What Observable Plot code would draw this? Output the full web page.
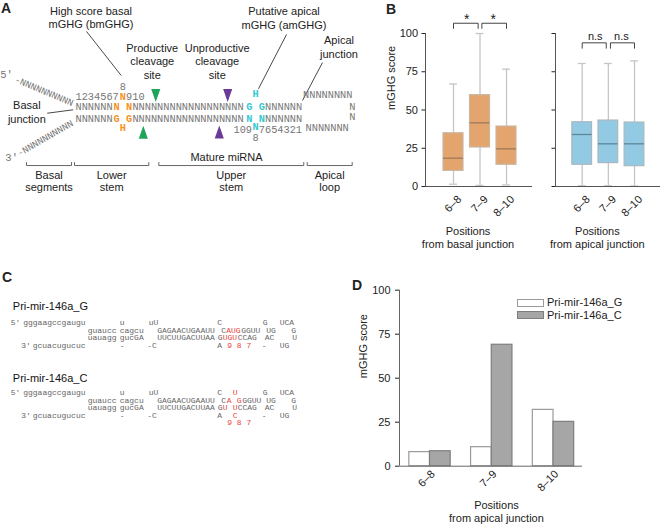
<!DOCTYPE html>
<html><head><meta charset="utf-8">
<script src="https://cdn.jsdelivr.net/npm/d3@7"></script>
<script src="https://cdn.jsdelivr.net/npm/@observablehq/plot@0.6"></script>
<style>
body{margin:0;background:#fff;}
#fig{position:relative;width:664px;height:526px;overflow:hidden;font-family:"Liberation Sans",Arial,sans-serif;color:#222;}
.pnl{position:absolute;}
.plab{position:absolute;font-weight:bold;font-size:14px;line-height:14px;}
.leg{position:absolute;font-size:11px;line-height:13px;white-space:nowrap;}
.sw{position:absolute;width:27px;height:8px;box-sizing:border-box;}
</style></head><body><div id="fig"></div>
<script>
// ---------------- DATA ----------------
const positionCats = ["6–8", "7–9", "8–10"];
const scoreTicks = [0, 25, 50, 75, 100];
// B: basal junction boxplots
const basalLo  = [1.5, 0.7, 1.0];
const basalQ1  = [10.2, 25.5, 14.2];
const basalMed = [18.5, 41.6, 24.6];
const basalQ3  = [34.8, 59.7, 39.2];
const basalHi  = [67.0, 100, 76.7];
// B: apical junction boxplots
const apicalLo  = [0.5, 0.5, 0.3];
const apicalQ1  = [14.2, 15.3, 13.3];
const apicalMed = [34.0, 27.9, 27.9];
const apicalQ3  = [42.0, 43.1, 41.8];
const apicalHi  = [80.4, 80.4, 82.1];
const sigBasal  = ["*", "*"];
const sigApical = ["n.s", "n.s"];
// D: bars
const seriesNames = ["Pri-mir-146a_G", "Pri-mir-146a_C"];
const mir146aG = [8.0, 10.8, 32.0];
const mir146aC = [8.5, 69.0, 25.2];
const basalTitle = ["Positions", "from basal junction"];
const apicalTitle = ["Positions", "from apical junction"];

// A: sequence diagram (col = nucleotide column, row = line)
const seqA = [
  {row:0, col:1, text:"NNNNNN", kind:"n"}, {row:0, col:7, text:"N", kind:"b"}, {row:0, col:9, text:"N", kind:"b"},
  {row:0, col:10, text:"NNNNNNNNNNNNNNNNNN", kind:"n"}, {row:0, col:28, text:"G", kind:"a"}, {row:0, col:30, text:"G", kind:"a"},
  {row:0, col:31, text:"NNNNNN", kind:"n"},
  {row:1, col:1, text:"NNNNNN", kind:"n"}, {row:1, col:7, text:"G", kind:"b"}, {row:1, col:9, text:"G", kind:"b"},
  {row:1, col:10, text:"NNNNNNNNNNNNNNNNNN", kind:"n"}, {row:1, col:28, text:"N", kind:"a"}, {row:1, col:30, text:"N", kind:"a"},
  {row:1, col:31, text:"NNNNNN", kind:"n"},
  {row:-1.52, col:8, text:"8", kind:"n"},
  {row:-0.81, col:1, text:"1234567", kind:"n"}, {row:-0.81, col:8, text:"N", kind:"b"}, {row:-0.81, col:9, text:"910", kind:"n"},
  {row:-1.02, col:29, text:"H", kind:"a"},
  {row:1.68, col:8, text:"H", kind:"b"},
  {row:1.83, col:26, text:"109", kind:"n"}, {row:1.63, col:29, text:"N", kind:"a"}, {row:1.83, col:30, text:"7654321", kind:"n"},
  {row:2.46, col:29, text:"8", kind:"n"},
  {row:-0.94, col:37, text:"NNNNNNNN", kind:"n"}, {row:0, col:44.3, text:"N", kind:"n"},
  {row:0.79, col:44.3, text:"N", kind:"n"}, {row:1.68, col:37.4, text:"NNNNNNN", kind:"n"}
];
const tailsA = [
  {col:0.1, row:-0.24, text:"-NNNNNNNNNN", angle:23},
  {col:0.0, row:1.26, text:"-NNNNNNNNNN", angle:-30}
];
const endsA = [{col:-10.4, row:-2.52, text:"5'"}, {col:-9.6, row:4.0, text:"3'"}];
const labelsA = [
  {col:2.95, row:-7.03, text:"High score basal\nmGHG (bmGHG)"},
  {col:12.64, row:-3.58, text:"Productive\ncleavage\nsite"},
  {col:22.92, row:-3.58, text:"Unproductive\ncleavage\nsite"},
  {col:33.49, row:-6.99, text:"Putative apical\nmGHG (amGHG)"},
  {col:42.19, row:-4.72, text:"Apical\njunction"},
  {col:-7.2, row:0.41, text:"Basal\njunction"},
  {col:24.39, row:3.99, text:"Mature miRNA"}
];
const leadersA = [
  {c1:2.24, r1:-5.91, c2:7.73, r2:-2.44},
  {c1:33.89, r1:-5.67, c2:29.45, r2:-1.39},
  {c1:39.58, r1:-3.46, c2:36.42, r2:-0.47},
  {c1:-3.98, r1:0.53, c2:0.14, r2:0.26}
];
const cleavageA = [
  {col:13.2, row:-0.87, dir:"down", site:"productive"},
  {col:11.23, row:2.02, dir:"up", site:"productive"},
  {col:24.58, row:-0.87, dir:"down", site:"unproductive"},
  {col:23.25, row:2.0, dir:"up", site:"unproductive"}
];
const regionsA = [
  {from:-7.25, to:-0.13, text:"Basal\nsegments"},
  {from:0.34, to:12.10, text:"Lower\nstem"},
  {from:13.68, to:36.62, text:"Upper\nstem"},
  {from:37.16, to:44.28, text:"Apical\nloop"}
];

// C: secondary structures (block G / C, line row, column)
const seqC = [
  // Pri-mir-146a_G
  {b:"G", row:0, col:-2.5, text:"5'"}, {b:"G", row:0, col:0, text:"gggaagccgaugu"}, {b:"G", row:0, col:19.3, text:"u"},
  {b:"G", row:0, col:25.1, text:"uU"}, {b:"G", row:0, col:38.8, text:"C"}, {b:"G", row:0, col:47.9, text:"G"}, {b:"G", row:0, col:51.3, text:"UCA"},
  {b:"G", row:1, col:12.9, text:"guaucc"}, {b:"G", row:1, col:19.3, text:"cagcu"}, {b:"G", row:1, col:26.8, text:"GAGAACUGAAUU"},
  {b:"G", row:1, col:39.6, text:"C"}, {b:"G", row:1, col:40.6, text:"AUG", red:true}, {b:"G", row:1, col:43.6, text:"GGUU"},
  {b:"G", row:1, col:48.6, text:"UG"}, {b:"G", row:1, col:53.6, text:"G"},
  {b:"G", row:2, col:12.9, text:"uauagg"}, {b:"G", row:2, col:19.3, text:"gucGA"}, {b:"G", row:2, col:26.8, text:"UUCUUGACUUAA"},
  {b:"G", row:2, col:38.9, text:"G"}, {b:"G", row:2, col:39.9, text:"UGU", red:true}, {b:"G", row:2, col:42.9, text:"CCAG"},
  {b:"G", row:2, col:48.3, text:"AC"}, {b:"G", row:2, col:53.8, text:"U"},
  {b:"G", row:3, col:-0.4, text:"3'"}, {b:"G", row:3, col:1.9, text:"gcuacugucuc"}, {b:"G", row:3, col:19.3, text:"-"},
  {b:"G", row:3, col:24.8, text:"-C"}, {b:"G", row:3, col:38.8, text:"A"}, {b:"G", row:3, col:40.8, text:"9 8 7", red:true},
  {b:"G", row:3, col:47.7, text:"-"}, {b:"G", row:3, col:51.3, text:"UG"},
  // Pri-mir-146a_C
  {b:"C", row:0, col:-2.5, text:"5'"}, {b:"C", row:0, col:0, text:"gggaagccgaugu"}, {b:"C", row:0, col:19.3, text:"u"},
  {b:"C", row:0, col:25.1, text:"uU"}, {b:"C", row:0, col:38.8, text:"C"}, {b:"C", row:0, col:41.9, text:"U", red:true},
  {b:"C", row:0, col:47.9, text:"G"}, {b:"C", row:0, col:51.3, text:"UCA"},
  {b:"C", row:1, col:12.9, text:"guaucc"}, {b:"C", row:1, col:19.3, text:"cagcu"}, {b:"C", row:1, col:26.8, text:"GAGAACUGAAUU"},
  {b:"C", row:1, col:39.6, text:"C"}, {b:"C", row:1, col:40.7, text:"A", red:true}, {b:"C", row:1, col:42.7, text:"G", red:true},
  {b:"C", row:1, col:43.8, text:"GGUU"}, {b:"C", row:1, col:48.6, text:"UG"}, {b:"C", row:1, col:53.6, text:"G"},
  {b:"C", row:2, col:12.9, text:"uauagg"}, {b:"C", row:2, col:19.3, text:"gucGA"}, {b:"C", row:2, col:26.8, text:"UUCUUGACUUAA"},
  {b:"C", row:2, col:38.9, text:"G"}, {b:"C", row:2, col:39.9, text:"U", red:true}, {b:"C", row:2, col:41.9, text:"U", red:true},
  {b:"C", row:2, col:42.9, text:"CCAG"}, {b:"C", row:2, col:48.3, text:"AC"}, {b:"C", row:2, col:53.8, text:"U"},
  {b:"C", row:3, col:-0.4, text:"3'"}, {b:"C", row:3, col:1.9, text:"gcuacugucuc"}, {b:"C", row:3, col:19.3, text:"-"},
  {b:"C", row:3, col:24.8, text:"-C"}, {b:"C", row:3, col:38.8, text:"A"}, {b:"C", row:3, col:41.9, text:"C", red:true},
  {b:"C", row:3, col:47.7, text:"-"}, {b:"C", row:3, col:51.3, text:"UG"},
  {b:"C", row:4, col:40.8, text:"9 8 7", red:true}
];
const blockOffsetC = {G:0, C:9.33};
const blockTitleRowC = {G:-2.17, C:7.47};

// ---------------- RENDER ----------------
const fig = document.getElementById("fig");
function place(node, left, top, w, h){
  const d = document.createElement("div"); d.className = "pnl";
  d.style.left = left + "px"; d.style.top = top + "px"; d.style.width = w + "px"; d.style.height = h + "px";
  d.appendChild(node); fig.appendChild(d);
}
const SANS = '"Liberation Sans", Arial, sans-serif';
const MONO = '"Liberation Mono", "Courier New", monospace';
const baseStyle = {fontFamily: SANS, fontSize: "11px", background: "none", overflow: "visible", color: "#222"};

const ORANGE = "#F5921E", CYAN = "#35C9D2", GRAYT = "#767676";
const triDown = {draw(ctx, size){ const s = Math.sqrt(size/Math.PI); ctx.moveTo(-0.7*s,-s); ctx.lineTo(0.7*s,-s); ctx.lineTo(0,s); ctx.closePath(); }};
const triUp = {draw(ctx, size){ const s = Math.sqrt(size/Math.PI); ctx.moveTo(-0.7*s,s); ctx.lineTo(0.7*s,s); ctx.lineTo(0,-s); ctx.closePath(); }};

// ---- Panel A ----
const bracketPtsA = regionsA.flatMap((d,k)=>[
  {id:k, x:d.from, y:4.41}, {id:k, x:d.from, y:4.65}, {id:k, x:d.to, y:4.65}, {id:k, x:d.to, y:4.41}
]);
const plotA = Plot.plot({
  width: 330, height: 200, margin: 0, style: baseStyle,
  x: {domain: [-11.367, 40.848], range: [0, 330], axis: null},
  y: {domain: [-8.346, 7.402], range: [0, 200], axis: null},
  marks: [
    Plot.line(bracketPtsA, {x:"x", y:"y", z:"id", stroke:"#666", strokeWidth:1}),
    Plot.text(regionsA, {x:d=>(d.from+d.to)/2, y:()=>5.85, text:"text", fontSize:11, lineHeight:1.15, lineAnchor:"middle", fill:"#222"}),
    Plot.link(leadersA, {x1:"c1", y1:"r1", x2:"c2", y2:"r2", stroke:"#333", strokeWidth:0.9}),
    Plot.text(labelsA, {x:"col", y:"row", text:"text", fontSize:11, lineHeight:1.22, lineAnchor:"middle", fill:"#222"}),
    Plot.text(seqA, {filter:d=>d.kind==="n", x:d=>d.col-0.5, y:"row", text:"text", textAnchor:"start", fontFamily:MONO, fontSize:10.3, fill:GRAYT}),
    Plot.text(seqA, {filter:d=>d.kind==="b", x:d=>d.col-0.5, y:"row", text:"text", textAnchor:"start", fontFamily:MONO, fontSize:10.3, fontWeight:"bold", fill:ORANGE}),
    Plot.text(seqA, {filter:d=>d.kind==="a", x:d=>d.col-0.5, y:"row", text:"text", textAnchor:"start", fontFamily:MONO, fontSize:10.3, fontWeight:"bold", fill:CYAN}),
    Plot.text(tailsA, {x:"col", y:"row", text:"text", rotate:"angle", textAnchor:"end", fontFamily:MONO, fontSize:9.5, fill:GRAYT}),
    Plot.text(endsA, {x:"col", y:"row", text:"text", fontFamily:MONO, fontSize:10.5, fill:GRAYT}),
    Plot.dot(cleavageA, {filter:d=>d.dir==="down", x:"col", y:"row", r:6.5, symbol:triDown, fill:d=>d.site, stroke:"none"}),
    Plot.dot(cleavageA, {filter:d=>d.dir==="up", x:"col", y:"row", r:6.5, symbol:triUp, fill:d=>d.site, stroke:"none"})
  ],
  color: {domain:["productive","unproductive"], range:["#1FA55B","#6B3A99"]}
});
place(plotA, 0, 0, 330, 200);

// ---- Panel B ----
const bw = 0.377, cap = 0.15;
function boxMarks(rows, fill, stroke, medStroke){
  return [
    Plot.ruleX(rows, {x:"i", y1:"lo", y2:"hi", stroke:"#c6c6c6", strokeWidth:1.3}),
    Plot.ruleY(rows, {y:"lo", x1:d=>d.i-cap, x2:d=>d.i+cap, stroke:"#c6c6c6", strokeWidth:1.3}),
    Plot.ruleY(rows, {y:"hi", x1:d=>d.i-cap, x2:d=>d.i+cap, stroke:"#c6c6c6", strokeWidth:1.3}),
    Plot.rect(rows, {x1:d=>d.i-bw, x2:d=>d.i+bw, y1:"q1", y2:"q3", fill, stroke, strokeWidth:1.2}),
    Plot.ruleY(rows, {y:"med", x1:d=>d.i-bw, x2:d=>d.i+bw, stroke:medStroke, strokeWidth:1.3})
  ];
}
function bracketPoints(n, top, leg, gap){
  const pts = [];
  for (let k = 0; k < n; k++){
    const xa = k + (k>0 ? gap : 0), xb = k + 1 - (k<n-1 ? gap : 0);
    pts.push({id:k,x:xa,y:leg},{id:k,x:xa,y:top},{id:k,x:xb,y:top},{id:k,x:xb,y:leg});
  }
  return pts;
}
const rowsBasal = positionCats.map((cat,i)=>({i, cat, lo:basalLo[i], q1:basalQ1[i], med:basalMed[i], q3:basalQ3[i], hi:basalHi[i]}));
const rowsApical = positionCats.map((cat,i)=>({i, cat, lo:apicalLo[i], q1:apicalQ1[i], med:apicalMed[i], q3:apicalQ3[i], hi:apicalHi[i]}));
const xDomBL = [-1.057, 2.981];
const plotBL = Plot.plot({
  width: 210, height: 270, marginLeft: 95, marginRight: 8, marginTop: 33, marginBottom: 84, style: baseStyle,
  x: {domain: xDomBL, axis: null},
  y: {domain: [0, 100], ticks: scoreTicks, tickSize: 3.5, tickPadding: 4, label: null},
  marks: [
    ...boxMarks(rowsBasal, "#E3A46D", "#C9B7A4", "#A07A58"),
    Plot.ruleY([0], {stroke:"#555"}),
    Plot.ruleX([xDomBL[0]], {y1:0, y2:100, stroke:"#555"}),
    Plot.line(bracketPoints(sigBasal.length, 106.7, 103.3, 0.07), {x:"x", y:"y", z:"id", stroke:"#444", strokeWidth:1}),
    Plot.text(sigBasal, {x:(d,i)=>i+0.5, y:()=>106.7, text:d=>d, dy:-4, fontSize:14, lineAnchor:"middle"}),
    Plot.text(positionCats, {x:(d,i)=>i, frameAnchor:"bottom", lineAnchor:"middle", textAnchor:"end", rotate:-45, dx:6, dy:11, fontSize:11}),
    Plot.text([basalTitle.join("\n")], {x:()=>1, frameAnchor:"bottom", lineAnchor:"middle", dx:-12, dy:50.5, lineHeight:1.18, fontSize:11}),
    Plot.text(["mGHG score"], {frameAnchor:"left", dx:-34.3, rotate:-90, fontSize:11})
  ]
});
place(plotBL, 330, 0, 210, 270);

const xDomBR = [-1.021, 2.994];
const plotBR = Plot.plot({
  width: 124, height: 270, marginLeft: 15, marginRight: 4, marginTop: 33, marginBottom: 84, style: baseStyle,
  x: {domain: xDomBR, axis: null},
  y: {domain: [0, 100], ticks: scoreTicks, tickSize: 3.5, tickFormat: () => "", label: null},
  marks: [
    ...boxMarks(rowsApical, "#93CAE3", "#A9B8BF", "#5E8797"),
    Plot.ruleY([0], {stroke:"#555"}),
    Plot.ruleX([xDomBR[0]], {y1:0, y2:100, stroke:"#555"}),
    Plot.line(bracketPoints(sigApical.length, 93.9, 90.4, 0.08), {x:"x", y:"y", z:"id", stroke:"#444", strokeWidth:1}),
    Plot.text(sigApical, {x:(d,i)=>i+0.5, y:()=>93.9, text:d=>d, dy:-6.2, fontSize:11, lineAnchor:"middle"}),
    Plot.text(positionCats, {x:(d,i)=>i, frameAnchor:"bottom", lineAnchor:"middle", textAnchor:"end", rotate:-45, dx:6, dy:11, fontSize:11}),
    Plot.text([apicalTitle.join("\n")], {x:()=>1, frameAnchor:"bottom", lineAnchor:"middle", dx:-11, dy:50.5, lineHeight:1.18, fontSize:11})
  ]
});
place(plotBR, 540, 0, 124, 270);

// ---- Panel C ----
const titlesC = [{b:"G", text:seriesNames[0]}, {b:"C", text:seriesNames[1]}];
const plotC = Plot.plot({
  width: 330, height: 150, margin: 0, style: baseStyle,
  x: {domain: [-4.54, 61.46], range: [0, 330], axis: null},
  y: {domain: [-4.307, 15.693], range: [0, 150], axis: null},
  marks: [
    Plot.text(titlesC, {x:()=>-2.08, y:d=>blockTitleRowC[d.b], text:"text", textAnchor:"start", fontSize:11, fill:"#111"}),
    Plot.text(seqC, {filter:d=>!d.red, x:"col", y:d=>d.row+blockOffsetC[d.b], text:"text", textAnchor:"start", fontFamily:MONO, fontSize:8, fill:"#666"}),
    Plot.text(seqC, {filter:d=>d.red, x:"col", y:d=>d.row+blockOffsetC[d.b], text:"text", textAnchor:"start", fontFamily:MONO, fontSize:8, fill:"#E8453C"})
  ]
});
place(plotC, 0, 290, 330, 150);

// ---- Panel D ----
const rowsD = positionCats.map((cat,i)=>({i, cat, g:mir146aG[i], c:mir146aC[i]}));
const xDomD = [-0.494, 2.4695], barW = 0.335;
const plotD = Plot.plot({
  width: 334, height: 256, marginLeft: 69, marginRight: 82, marginTop: 19.7, marginBottom: 60.3, style: baseStyle,
  x: {domain: xDomD, axis: null},
  y: {domain: [0, 100], ticks: scoreTicks, tickSize: 4, tickPadding: 5, label: null},
  marks: [
    Plot.rect(rowsD, {x1:d=>d.i-barW, x2:d=>d.i, y1:()=>0, y2:"g", fill:"#ffffff", stroke:"#9a9a9a", strokeWidth:1.2}),
    Plot.rect(rowsD, {x1:d=>d.i, x2:d=>d.i+barW, y1:()=>0, y2:"c", fill:"#A6A6A6", stroke:"#7e7e7e", strokeWidth:1.2}),
    Plot.ruleY([0], {stroke:"#666"}),
    Plot.ruleX([xDomD[0]], {y1:0, y2:100, stroke:"#666"}),
    Plot.text(positionCats, {x:(d,i)=>i, frameAnchor:"bottom", lineAnchor:"middle", textAnchor:"end", rotate:-45, dx:3, dy:6, fontSize:11}),
    Plot.text([apicalTitle.join("\n")], {x:()=>1, frameAnchor:"bottom", lineAnchor:"middle", dx:4.7, dy:45, lineHeight:1.21, fontSize:11}),
    Plot.text(["mGHG score"], {frameAnchor:"left", dx:-36, rotate:-90, fontSize:11})
  ]
});
place(plotD, 330, 270, 334, 256);

// legend for D
const legFills = ["#ffffff", "#A6A6A6"], legStrokes = ["#9a9a9a", "#7e7e7e"];
seriesNames.forEach((name, k) => {
  const sw = document.createElement("div"); sw.className = "sw";
  sw.style.left = "517px"; sw.style.top = (299 + 12*k) + "px";
  sw.style.background = legFills[k]; sw.style.border = "1px solid " + legStrokes[k];
  fig.appendChild(sw);
  const t = document.createElement("div"); t.className = "leg";
  t.style.left = "547px"; t.style.top = (296 + 12.5*k) + "px"; t.textContent = name;
  fig.appendChild(t);
});

// panel letters
[["A",1,1],["B",386,1.5],["C",2,270],["D",352,277.5]].forEach(([s,l,t])=>{
  const e = document.createElement("div"); e.className = "plab";
  e.style.left = l + "px"; e.style.top = t + "px"; e.textContent = s; fig.appendChild(e);
});
</script></body></html>
